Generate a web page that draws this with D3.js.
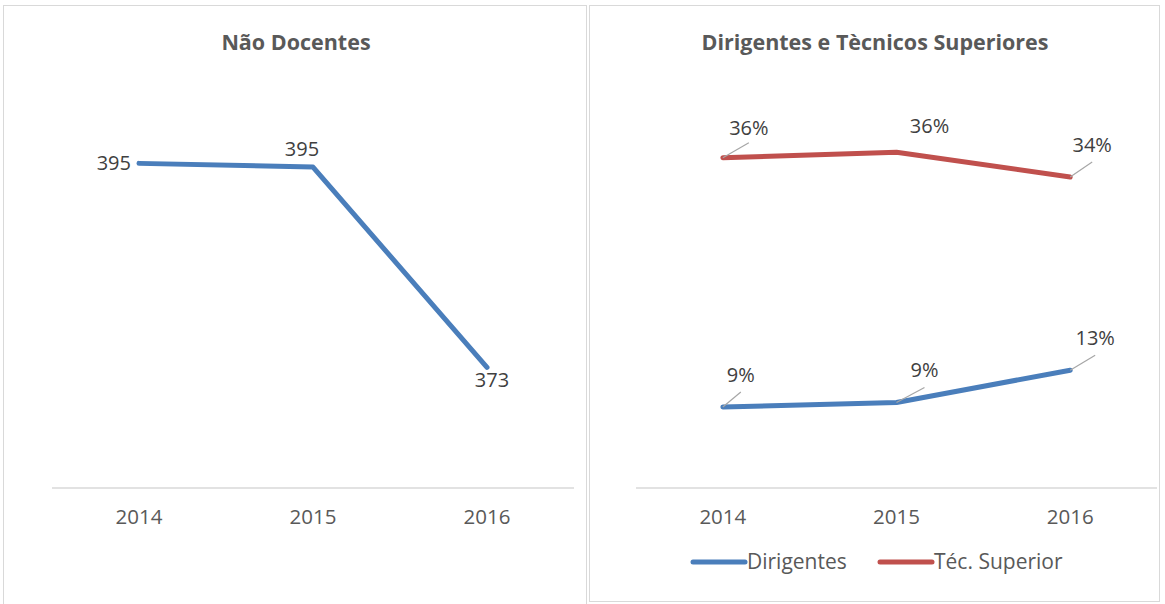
<!DOCTYPE html>
<meta charset="utf-8">
<style>
  body { margin: 0; background: #fff; }
  text { font-family: "Open Sans", sans-serif; }
  .title { font-size: 21.5px; font-weight: bold; fill: #595959; }
  .tick text { font-size: 20.5px; fill: #595959; }
  .lbl { font-size: 20px; fill: #404040; }
  .legend text { font-size: 21px; fill: #595959; }
</style>
<script src="https://d3js.org/d3.v7.min.js"></script>
<body>
<svg width="1165" height="604"></svg>
<script>
const years = ['2014', '2015', '2016'];
const naoDocentes = [395.0, 394.6, 373];
const naoDocentesLabels = ['395', '395', '373'];
const dirigentes = [0.088, 0.093, 0.128];
const dirigentesLabels = ['9%', '9%', '13%'];
const tecSuperior = [0.359, 0.365, 0.338];
const tecSuperiorLabels = ['36%', '36%', '34%'];

const blue = '#4a7ebb', red = '#c0504d', frame = '#d9d9d9';
const svg = d3.select('svg');

// panel frames
svg.append('rect').attr('x', 3.5).attr('y', 5.5).attr('width', 583).attr('height', 610)
    .attr('fill', 'none').attr('stroke', frame);
svg.append('rect').attr('x', 589.5).attr('y', 5.5).attr('width', 570).attr('height', 596)
    .attr('fill', 'none').attr('stroke', frame);

function axisX(g, x, y) {
  g.append('line').attr('x1', x.range()[0]).attr('x2', x.range()[1])
      .attr('y1', y.range()[0]).attr('y2', y.range()[0])
      .attr('stroke', frame).attr('stroke-width', 1.5);
  const ax = g.append('g').attr('transform', `translate(0,${y.range()[0]})`)
      .call(d3.axisBottom(x).tickSize(0).tickPadding(21));
  ax.select('.domain').remove();
}

// left chart
const left = svg.append('g');
left.append('text').attr('class', 'title').attr('x', 296).attr('y', 50)
    .attr('text-anchor', 'middle').text('Não Docentes');
const x1 = d3.scaleBand().domain(years).range([52, 574]);
const y1 = d3.scaleLinear().domain([360, 400]).range([488, 117]);
axisX(left, x1, y1);
const px1 = d => x1(d) + x1.bandwidth() / 2;
left.append('path').datum(naoDocentes)
    .attr('fill', 'none').attr('stroke', blue).attr('stroke-width', 5)
    .attr('stroke-linejoin', 'round').attr('stroke-linecap', 'round')
    .attr('d', d3.line().x((d, i) => px1(years[i])).y(d => y1(d)));
const leftPos = [[-8, 0, 'end'], [-11, -18, 'middle'], [5, 13, 'middle']];
left.selectAll('.lbl').data(naoDocentes).join('text').attr('class', 'lbl')
    .attr('x', (d, i) => px1(years[i]) + leftPos[i][0])
    .attr('y', (d, i) => y1(d) + leftPos[i][1])
    .attr('dy', '0.35em').attr('text-anchor', (d, i) => leftPos[i][2])
    .text((d, i) => naoDocentesLabels[i]);

// right chart
const right = svg.append('g');
right.append('text').attr('class', 'title').attr('x', 875).attr('y', 50)
    .attr('text-anchor', 'middle').text('Dirigentes e Tècnicos Superiores');
const x2 = d3.scaleBand().domain(years).range([636, 1157]);
const y2 = d3.scaleLinear().domain([0, 0.4]).range([488, 120]);
axisX(right, x2, y2);
const px2 = d => x2(d) + x2.bandwidth() / 2;

const series = [
  {name: 'Dirigentes', values: dirigentes, labels: dirigentesLabels, color: blue,
   off: [[18, -32, true], [28, -32, true], [25, -32, true]]},
  {name: 'Téc. Superior', values: tecSuperior, labels: tecSuperiorLabels, color: red,
   off: [[26, -30, true], [33, -26, false], [22, -32, true]]}
];

series.forEach(s => {
  right.append('path').datum(s.values)
      .attr('fill', 'none').attr('stroke', s.color).attr('stroke-width', 5)
      .attr('stroke-linejoin', 'round').attr('stroke-linecap', 'round')
      .attr('d', d3.line().x((d, i) => px2(years[i])).y(d => y2(d)));
  s.values.forEach((v, i) => {
    const cx = px2(years[i]), cy = y2(v), o = s.off[i];
    if (o[2]) {
      right.append('line').attr('x1', cx).attr('y1', cy)
          .attr('x2', cx + o[0]).attr('y2', cy - 15)
          .attr('stroke', '#a6a6a6').attr('stroke-width', 1.2);
    }
    right.append('text').attr('class', 'lbl').attr('x', cx + o[0]).attr('y', cy + o[1])
        .attr('dy', '0.35em').attr('text-anchor', 'middle').text(s.labels[i]);
  });
});

// legend
const legend = right.append('g').attr('class', 'legend');
const legX = [693, 880];
series.forEach((s, i) => {
  legend.append('line').attr('x1', legX[i]).attr('x2', legX[i] + 52)
      .attr('y1', 562).attr('y2', 562)
      .attr('stroke', s.color).attr('stroke-width', 5).attr('stroke-linecap', 'round');
  legend.append('text').attr('x', legX[i] + 54).attr('y', 562).attr('dy', '0.35em')
      .text(s.name);
});
</script>
</body>
